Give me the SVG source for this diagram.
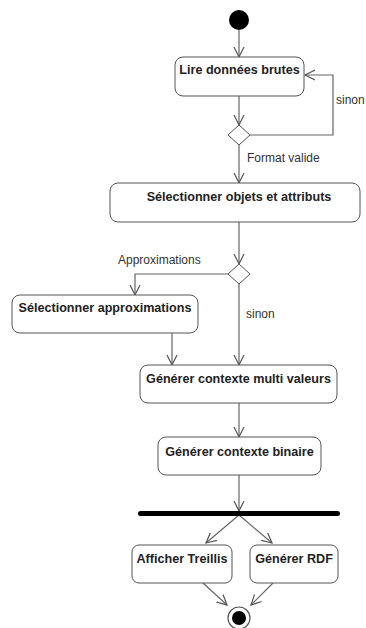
<svg xmlns="http://www.w3.org/2000/svg" width="366" height="628" viewBox="0 0 366 628">
<style>
.box{fill:#fff;stroke:#555;stroke-width:1}
.t{font-family:"Liberation Sans",Arial,sans-serif;font-size:12.6px;font-weight:bold;fill:#222;text-anchor:middle}
.l{font-family:"Liberation Sans",Arial,sans-serif;font-size:12px;fill:#333}
.c{fill:none;stroke:#666;stroke-width:1.2}
</style>
<defs>
<marker id="a" markerUnits="userSpaceOnUse" markerWidth="12" markerHeight="12" refX="10" refY="5" orient="auto" viewBox="0 0 12 10">
<path d="M0,0 L10,5 L0,10" fill="none" stroke="#555" stroke-width="1.2"/>
</marker>
</defs>
<g id="connectors">
<polyline class="c" points="239,30 239,57" marker-end="url(#a)"/>
<polyline class="c" points="239,96 239,125" marker-end="url(#a)"/>
<polyline class="c" points="250,135 333,135 333,75 305,75" marker-end="url(#a)"/>
<polyline class="c" points="239,145 239,183" marker-end="url(#a)"/>
<polyline class="c" points="239,222 239,264" marker-end="url(#a)"/>
<polyline class="c" points="228,274 135,274 135,295" marker-end="url(#a)"/>
<polyline class="c" points="239,284 239,365" marker-end="url(#a)"/>
<polyline class="c" points="172,333 172,365" marker-end="url(#a)"/>
<polyline class="c" points="239,403 239,437" marker-end="url(#a)"/>
<polyline class="c" points="239,475 239,511" marker-end="url(#a)"/>
<polyline class="c" points="239,515 206,543" marker-end="url(#a)"/>
<polyline class="c" points="239,515 272,543" marker-end="url(#a)"/>
<polyline class="c" points="203,583 227,605" marker-end="url(#a)"/>
<polyline class="c" points="273,583 251,605" marker-end="url(#a)"/>
<text class="l" x="336" y="104">sinon</text>
<text class="l" x="247" y="162">Format valide</text>
<text class="l" x="118" y="264">Approximations</text>
<text class="l" x="246" y="318">sinon</text>
</g>
<g id="start"><circle cx="239" cy="20" r="10" fill="#000"/></g>
<g id="lire"><rect class="box" x="175" y="57" width="129" height="39" rx="8"/><text class="t" x="239.5" y="74">Lire données brutes</text></g>
<g id="dec1"><polygon points="239,125 250,135 239,145 228,135" fill="#fff" stroke="#555"/></g>
<g id="selobj"><rect class="box" x="110" y="183" width="250" height="39" rx="8"/><text class="t" x="239" y="201">Sélectionner objets et attributs</text></g>
<g id="dec2"><polygon points="239,264 250,274 239,284 228,274" fill="#fff" stroke="#555"/></g>
<g id="selapp"><rect class="box" x="12" y="295" width="186" height="38" rx="8"/><text class="t" x="105" y="312">Sélectionner approximations</text></g>
<g id="multi"><rect class="box" x="140" y="365" width="197" height="38" rx="8"/><text class="t" x="238.5" y="383">Générer contexte multi valeurs</text></g>
<g id="binaire"><rect class="box" x="158" y="437" width="163" height="38" rx="8"/><text class="t" x="239.5" y="456">Générer contexte binaire</text></g>
<g id="fork"><rect x="138" y="511" width="202" height="5" rx="2.5" fill="#000"/></g>
<g id="treillis"><rect class="box" x="132" y="545" width="100" height="38" rx="7"/><text class="t" x="182" y="563">Afficher Treillis</text></g>
<g id="rdf"><rect class="box" x="250" y="545" width="88" height="38" rx="7"/><text class="t" x="294" y="563">Générer RDF</text></g>
<g id="end"><circle cx="239" cy="618" r="11" fill="#fff" stroke="#555" stroke-width="1.2"/><circle cx="239" cy="618" r="7" fill="#000"/></g>
</svg>
